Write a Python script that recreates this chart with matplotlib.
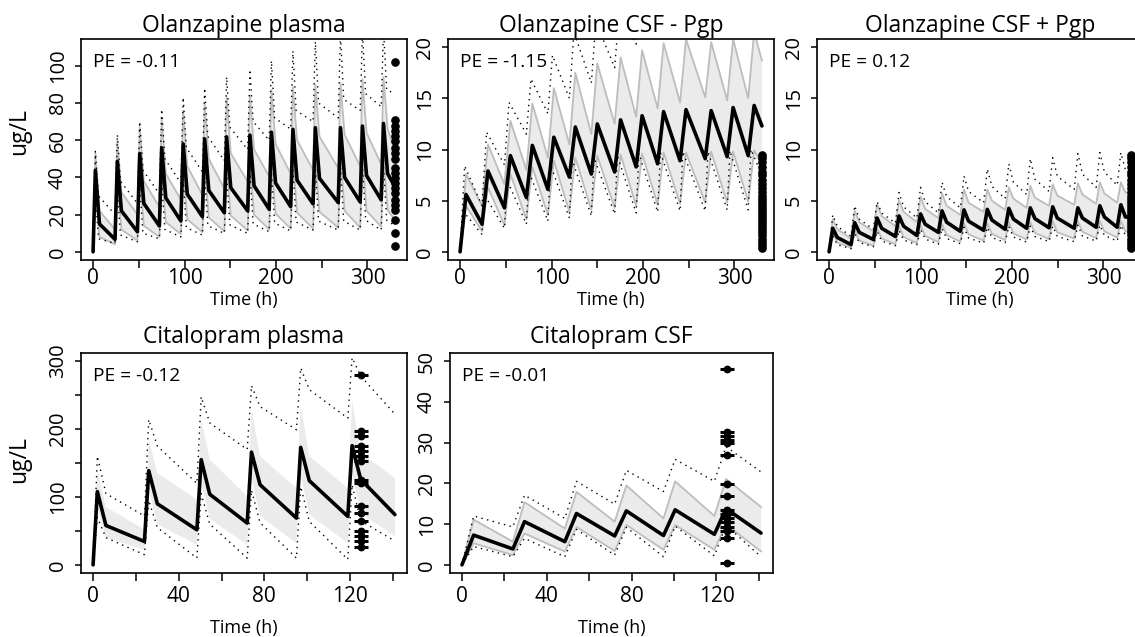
import numpy as np
import matplotlib
matplotlib.use('Agg')
import matplotlib.pyplot as plt

plt.rcParams['font.family'] = ['Open Sans', 'DejaVu Sans']

# ------------------------------------------------------------------ data
# Olanzapine: dosing times (h), end of simulation, observation time
olz_doses = [0, 24, 48.5, 72.5, 96, 119.5, 143.5, 169, 192.5, 216, 240.5, 268, 292, 315]
olz_end = 330
olz_obs_time = 330

# Olanzapine plasma (ug/L): value at each dose (trough), peak, shoulder
op_med_trough = [0, 6.7, 10.8, 13.9, 16.6, 18.9, 21.0, 22.0, 22.9, 24.3, 25.8, 26.5, 26.8, 27.9]
op_med_peak = [43.8, 48.6, 52.8, 55.9, 58.0, 60.7, 61.8, 62.7, 64.3, 65.8, 66.7, 66.7, 67.6, 69.0]
op_med_knee = [15, 22, 26, 29, 31, 33, 34.5, 35.5, 37, 38.5, 39.5, 40, 41, 42]
op_med_end = 35
op_hi_trough = [0, 12, 20, 24, 28, 30.6, 34, 37.8, 40.5, 42, 44, 45, 46, 47]
op_hi_peak = [52.8, 59.5, 67.0, 71.7, 75.7, 79.8, 83.2, 84.1, 87.0, 88.6, 89.7, 90.5, 92.8, 94.0]
op_hi_knee = [22, 32, 38, 42, 46, 50, 53, 55, 58, 60, 62, 63, 64, 66]
op_hi_end = 55
op_lo_trough = [0, 4, 6, 8, 9.5, 10.5, 11, 11.5, 12, 12.5, 12.5, 13, 13, 13.5]
op_lo_peak = [35, 38, 41, 43, 45, 46, 47, 48, 49, 50, 50, 51, 51, 52]
op_lo_knee = [8, 12, 14, 16, 17.5, 18.5, 19.5, 20, 20.5, 21, 21.5, 22, 22, 22.5]
op_lo_end = 17
op_dhi_trough = [0, 20, 26, 31, 37, 43, 49, 55, 60, 66, 70, 72, 76, 78]
op_dhi_peak = [54, 63, 70, 76.6, 83, 88, 94, 98, 102.7, 108, 113, 117, 118, 120]
op_dhi_knee = [30, 38, 44, 50, 56, 62, 67, 70, 72, 76, 80, 82, 85, 87]
op_dhi_end = 85
op_dlo_trough = [0, 4.5, 5.4, 7, 8, 9, 9.9, 9.9, 10.8, 11.2, 11.7, 11.7, 11.7, 11.7]
op_dlo_peak = [30, 32, 35, 37, 39, 40, 41, 42, 43, 44, 45, 45, 46, 46]
op_dlo_knee = [7, 9, 10, 12, 13, 14, 14.5, 15, 15.5, 16, 16.5, 16.5, 17, 17]
op_dlo_end = 14
op_obs = [102.3, 71, 67.7, 65, 62.3, 59.6, 56, 53.3, 49.7, 45.2, 42.5, 39.8, 37.1,
          34.4, 31.7, 28.1, 25.4, 22.7, 17.3, 10.1, 3.2]

# Olanzapine CSF - Pgp (ug/L)
oa_med_trough = [0, 2.7, 4.3, 5.3, 6.1, 7.3, 7.6, 7.8, 8.3, 8.6, 8.9, 9.1, 9.3, 9.4]
oa_med_peak = [5.6, 7.9, 9.4, 10.4, 11.2, 12.2, 12.5, 12.9, 13.3, 13.7, 13.9, 13.8, 14.1, 14.3]
oa_med_end = 12.3
oa_hi_trough = [0, 4.5, 6.6, 8.0, 9.2, 10.5, 11.5, 12.5, 13.2, 14.0, 14.6, 15.1, 14.8, 15.0]
oa_hi_peak = [7.6, 10.5, 12.8, 14.5, 16.0, 17.5, 18.4, 19.0, 19.7, 20.4, 20.8, 20.5, 20.8, 21.5]
oa_hi_end = 18.7
oa_lo_trough = [0, 2.0, 2.6, 3.2, 3.6, 3.9, 4.1, 4.3, 4.5, 4.6, 4.7, 4.8, 4.8, 4.9]
oa_lo_peak = [4.5, 6.3, 7.6, 8.3, 8.9, 9.2, 9.4, 9.5, 9.6, 9.7, 9.7, 9.8, 9.8, 9.9]
oa_lo_end = 8.5
oa_dhi_trough = [0, 4.5, 8.5, 11.5, 13.5, 15, 16.5, 18, 20.3, 21.5, 22, 22.5, 22.5, 22.5]
oa_dhi_peak = [8.4, 11.7, 14.6, 16.9, 19.2, 21.5, 22.5, 23.5, 25, 25.5, 26, 26, 26, 26]
oa_dhi_end = 24
oa_dlo_trough = [0, 1.7, 2.3, 2.7, 3.0, 3.3, 3.5, 3.7, 3.8, 3.9, 4.0, 4.0, 4.1, 4.1]
oa_dlo_peak = [4.0, 5.5, 7.0, 7.8, 8.5, 9.0, 9.2, 9.4, 9.6, 9.7, 9.8, 9.8, 9.9, 10]
oa_dlo_end = 7.5

# Olanzapine CSF + Pgp (ug/L)
ob_med_trough = [0, 0.7, 1.2, 1.5, 1.6, 1.9, 2.0, 2.1, 2.2, 2.3, 2.35, 2.3, 2.4, 2.4]
ob_med_peak = [2.3, 2.85, 3.3, 3.5, 3.7, 4.0, 4.1, 4.15, 4.25, 4.3, 4.4, 4.3, 4.5, 4.6]
ob_med_knee = [1.4, 1.9, 2.3, 2.5, 2.7, 2.9, 3.0, 3.1, 3.2, 3.25, 3.3, 3.3, 3.4, 3.4]
ob_med_end = 3.4
ob_hi_trough = [0, 1.3, 2.0, 2.5, 2.9, 3.3, 3.6, 3.9, 4.1, 4.3, 4.5, 4.6, 4.7, 4.8]
ob_hi_peak = [3.2, 4.0, 4.65, 5.05, 5.4, 5.7, 6.1, 6.1, 6.3, 6.45, 6.6, 6.7, 6.8, 6.8]
ob_hi_knee = [2.2, 2.9, 3.5, 3.9, 4.2, 4.5, 4.8, 5.0, 5.2, 5.3, 5.5, 5.6, 5.7, 5.8]
ob_hi_end = 5.6
ob_lo_trough = [0, 0.4, 0.6, 0.75, 0.85, 0.95, 1.0, 1.1, 1.15, 1.2, 1.25, 1.3, 1.35, 1.4]
ob_lo_peak = [1.8, 2.1, 2.3, 2.5, 2.6, 2.7, 2.8, 2.8, 2.9, 2.9, 3.0, 3.0, 3.0, 3.0]
ob_lo_knee = [0.9, 1.1, 1.3, 1.45, 1.55, 1.65, 1.7, 1.75, 1.8, 1.85, 1.9, 1.95, 2.0, 2.0]
ob_lo_end = 1.9
ob_dhi_trough = [0, 1.5, 2.2, 2.8, 3.3, 3.8, 4.3, 4.8, 5.2, 5.6, 5.9, 6.1, 6.3, 6.5]
ob_dhi_peak = [3.6, 4.5, 4.9, 5.8, 6.3, 6.8, 7.4, 8.1, 8.6, 9.1, 9.2, 9.6, 9.7, 9.7]
ob_dhi_knee = [2.5, 3.2, 3.8, 4.4, 4.9, 5.4, 5.9, 6.4, 6.8, 7.1, 7.4, 7.6, 7.8, 8.0]
ob_dhi_end = 7.8
ob_dlo_trough = [0, 0.3, 0.5, 0.6, 0.7, 0.75, 0.8, 0.85, 0.9, 0.95, 1.0, 1.0, 1.05, 1.05]
ob_dlo_peak = [1.6, 1.8, 2.0, 2.1, 2.2, 2.3, 2.4, 2.4, 2.5, 2.5, 2.5, 2.6, 2.6, 2.6]
ob_dlo_knee = [0.7, 0.9, 1.05, 1.15, 1.25, 1.3, 1.35, 1.4, 1.45, 1.5, 1.5, 1.55, 1.6, 1.6]
ob_dlo_end = 1.5

# Olanzapine CSF observations (same for both CSF panels)
oc_obs = [9.5, 9.2, 8.8, 8.3, 7.8, 7.5, 7.0, 6.6, 6.2, 5.8, 5.5, 5.2, 4.9, 4.6, 4.3,
          4.0, 3.7, 3.4, 3.1, 2.8, 2.5, 2.2, 1.9, 1.6, 1.3, 1.0, 0.7, 0.4]

# Citalopram: dosing times (h), end of simulation, observation time
cit_doses = [0, 24, 48.5, 72, 95, 119]
cit_end = 141
cit_obs_time = 125

# Citalopram plasma (ug/L)
cp_med_trough = [0, 34.4, 51.6, 61.5, 68.9, 71.3]
cp_med_peak = [108, 138.7, 155, 166, 173, 175.6]
cp_med_knee = [58, 90, 104, 118, 124, 126]
cp_med_end = 74
cp_hi_trough = [0, 52, 96, 101, 113, 113]
cp_hi_peak = [140, 184.5, 214, 228.7, 235, 242.5]
cp_hi_knee = [85, 135, 155, 160, 160, 165]
cp_hi_end = 128
cp_lo_trough = [0, 22, 29.5, 29.5, 32, 32]
cp_lo_peak = [85, 110, 120, 128, 132, 135]
cp_lo_knee = [40, 60, 68, 72, 74, 76]
cp_lo_end = 42
cp_dhi_trough = [0, 72, 120, 170, 199, 216]
cp_dhi_peak = [160, 214, 247.5, 264, 290, 305]
cp_dhi_knee = [105, 175, 209, 233, 258, 278]
cp_dhi_end = 222
cp_dlo_trough = [0, 15, 10, 10, 10, 8]
cp_dlo_peak = [70, 95, 105, 110, 115, 118]
cp_dlo_knee = [40, 55, 60, 62, 64, 65]
cp_dlo_end = 35
cp_obs = [279, 197, 189.5, 174.8, 167.4, 160, 152.6, 125.6, 120.7, 86, 76.4, 64,
          49.3, 41.8, 34.4, 27]

# Citalopram CSF (ug/L)
cc_med_trough = [0, 3.9, 5.7, 7.1, 7.2, 7.5]
cc_med_peak = [7.3, 10.6, 12.6, 13.25, 13.5, 13.8]
cc_med_end = 7.8
cc_hi_trough = [0, 5.7, 8.9, 10.6, 11.4, 12.0]
cc_hi_peak = [11.1, 15.4, 17.9, 19.5, 20.5, 21.1]
cc_hi_end = 14.2
cc_lo_trough = [0, 2.4, 3.25, 3.4, 3.7, 3.7]
cc_lo_peak = [5.3, 7.7, 9.3, 9.8, 9.8, 9.9]
cc_lo_end = 3.3
cc_dhi_trough = [0, 9.3, 11.4, 14.9, 18, 20.5]
cc_dhi_peak = [12, 17.1, 20.5, 23.2, 25.9, 29]
cc_dhi_end = 22.8
cc_dlo_trough = [0, 2.0, 2.0, 2.4, 2.0, 2.2]
cc_dlo_peak = [4.5, 6.5, 8.7, 9.2, 9.5, 9.7]
cc_dlo_end = 2.0
cc_obs = [48, 32.7, 31.7, 30.7, 29.8, 27, 19.9, 16.9, 13.4, 12.4, 11.4, 10.4, 9.3,
          8.3, 6.5, 0.4]

titles = ["Olanzapine plasma", "Olanzapine CSF - Pgp", "Olanzapine CSF + Pgp",
          "Citalopram plasma", "Citalopram CSF"]
pe_texts = ["PE = -0.11", "PE = -1.15", "PE = 0.12", "PE = -0.12", "PE = -0.01"]


# ------------------------------------------------------------------ helpers
def cycle_path(doses, t_end, troughs, peaks, peak_off, end, knees=None, knee_off=None):
    t, y = [], []
    for i, d in enumerate(doses):
        t.append(d)
        y.append(troughs[i])
        t.append(d + peak_off)
        y.append(peaks[i])
        if knees is not None:
            t.append(d + knee_off)
            y.append(knees[i])
    t.append(t_end)
    y.append(end)
    return np.array(t), np.array(y)


W, H = 1135, 637
fig = plt.figure(figsize=(W / 100, H / 100), dpi=100)


def make_ax(l, t, r, b):
    return fig.add_axes([l / W, 1 - b / H, (r - l) / W, (b - t) / H])


FILL = '#ebebeb'
EDGE = '#bdbdbd'
DOT = dict(color='black', lw=1.0, linestyle=(0, (1, 3.2)))
MED = dict(color='black', lw=2.6, solid_joinstyle='round', solid_capstyle='round')


def draw(ax, med, hi, lo, dhi, dlo, obs_t, obs_y, edges=True, bars=False):
    ax.fill(np.r_[hi[0], lo[0][::-1]], np.r_[hi[1], lo[1][::-1]],
            color=FILL, lw=0, zorder=1)
    if edges:
        ax.plot(*hi, color=EDGE, lw=1.3, zorder=2)
        ax.plot(*lo, color=EDGE, lw=1.3, zorder=2)
    ax.plot(*dhi, zorder=3, **DOT)
    ax.plot(*dlo, zorder=3, **DOT)
    ax.plot(*med, zorder=4, **MED)
    ox = np.full(len(obs_y), obs_t, dtype=float)
    if bars:
        ax.plot(ox, obs_y, linestyle='none', marker='_', ms=10, mew=2.2,
                color='black', zorder=5, clip_on=False)
        ax.plot(ox, obs_y, linestyle='none', marker='o', ms=4.6,
                color='black', zorder=6, clip_on=False)
    else:
        ax.plot(ox, obs_y, linestyle='none', marker='o', ms=5.2,
                color='black', zorder=5, clip_on=False)


def style(ax, xlim, ylim, xticks, xlab, yticks, ylab, title, pe, row):
    ax.set_xlim(*xlim)
    ax.set_ylim(*ylim)
    ax.set_xticks(xticks)
    ax.set_xticklabels([str(v) if v in xlab else '' for v in xticks])
    ax.set_yticks(yticks)
    ax.set_yticklabels([str(v) if v in ylab else '' for v in yticks])
    for s in ax.spines.values():
        s.set_linewidth(1.2)
    xpad = 0.0 if row == 0 else 4.0
    ax.tick_params(axis='x', direction='out', length=5.5, width=1.1,
                   labelsize=15, pad=xpad)
    ax.tick_params(axis='y', direction='out', length=4.5, width=1.1,
                   labelsize=14.5, pad=5.0, labelrotation=90)
    for lab in ax.get_yticklabels():
        lab.set_va('center')
    h = ax.get_position().height * H
    w = ax.get_position().width * W
    ty = 1 + (7.3 if row == 0 else 9.7) / h
    ax.text(0.5, ty, title, transform=ax.transAxes, ha='center', va='baseline',
            fontsize=16.5)
    ax.text(12 / w, 1 - 28 / h, pe, transform=ax.transAxes, ha='left',
            va='baseline', fontsize=13.8)
    tly = -(39.5 if row == 0 else 54.5) / h
    ax.text(0.5, tly, 'Time (h)', transform=ax.transAxes, ha='center',
            va='center', fontsize=13)


olz_xlim = (-13.2, 343.2)
olz_xt = list(range(0, 301, 50))
olz_xl = [0, 100, 200, 300]
cit_xlim = (-5.64, 146.64)
cit_xt = list(range(0, 141, 20))
cit_xl = [0, 40, 80, 120]

# ---------------- Olanzapine plasma
ax = make_ax(81, 39, 407, 260)
draw(ax,
     cycle_path(olz_doses, olz_end, op_med_trough, op_med_peak, 2.5, op_med_end, op_med_knee, 7),
     cycle_path(olz_doses, olz_end, op_hi_trough, op_hi_peak, 2.5, op_hi_end, op_hi_knee, 7),
     cycle_path(olz_doses, olz_end, op_lo_trough, op_lo_peak, 2.5, op_lo_end, op_lo_knee, 7),
     cycle_path(olz_doses, olz_end, op_dhi_trough, op_dhi_peak, 2.5, op_dhi_end, op_dhi_knee, 6),
     cycle_path(olz_doses, olz_end, op_dlo_trough, op_dlo_peak, 2.5, op_dlo_end, op_dlo_knee, 6),
     olz_obs_time, op_obs)
style(ax, olz_xlim, (-4.4, 114.4), olz_xt, olz_xl, list(range(0, 101, 20)),
      list(range(0, 101, 20)), titles[0], pe_texts[0], 0)

# ---------------- Olanzapine CSF - Pgp
ax = make_ax(448, 39, 774, 260)
draw(ax,
     cycle_path(olz_doses, olz_end, oa_med_trough, oa_med_peak, 6.5, oa_med_end),
     cycle_path(olz_doses, olz_end, oa_hi_trough, oa_hi_peak, 6.5, oa_hi_end),
     cycle_path(olz_doses, olz_end, oa_lo_trough, oa_lo_peak, 6.5, oa_lo_end),
     cycle_path(olz_doses, olz_end, oa_dhi_trough, oa_dhi_peak, 5, oa_dhi_end),
     cycle_path(olz_doses, olz_end, oa_dlo_trough, oa_dlo_peak, 3, oa_dlo_end),
     olz_obs_time, oc_obs)
style(ax, olz_xlim, (-0.8, 20.8), olz_xt, olz_xl, [0, 5, 10, 15, 20],
      [0, 5, 10, 15, 20], titles[1], pe_texts[1], 0)

# ---------------- Olanzapine CSF + Pgp
ax = make_ax(817, 39, 1143, 260)
draw(ax,
     cycle_path(olz_doses, olz_end, ob_med_trough, ob_med_peak, 4, ob_med_end, ob_med_knee, 9),
     cycle_path(olz_doses, olz_end, ob_hi_trough, ob_hi_peak, 4, ob_hi_end, ob_hi_knee, 9),
     cycle_path(olz_doses, olz_end, ob_lo_trough, ob_lo_peak, 4, ob_lo_end, ob_lo_knee, 9),
     cycle_path(olz_doses, olz_end, ob_dhi_trough, ob_dhi_peak, 4, ob_dhi_end, ob_dhi_knee, 9),
     cycle_path(olz_doses, olz_end, ob_dlo_trough, ob_dlo_peak, 4, ob_dlo_end, ob_dlo_knee, 9),
     olz_obs_time, oc_obs)
style(ax, olz_xlim, (-0.8, 20.8), olz_xt, olz_xl, [0, 5, 10, 15, 20],
      [0, 5, 10, 15, 20], titles[2], pe_texts[2], 0)

# ---------------- Citalopram plasma
ax = make_ax(81, 353, 407, 573)
draw(ax,
     cycle_path(cit_doses, cit_end, cp_med_trough, cp_med_peak, 2, cp_med_end, cp_med_knee, 6),
     cycle_path(cit_doses, cit_end, cp_hi_trough, cp_hi_peak, 2, cp_hi_end, cp_hi_knee, 6),
     cycle_path(cit_doses, cit_end, cp_lo_trough, cp_lo_peak, 2, cp_lo_end, cp_lo_knee, 6),
     cycle_path(cit_doses, cit_end, cp_dhi_trough, cp_dhi_peak, 2, cp_dhi_end, cp_dhi_knee, 6),
     cycle_path(cit_doses, cit_end, cp_dlo_trough, cp_dlo_peak, 2, cp_dlo_end, cp_dlo_knee, 6),
     cit_obs_time, cp_obs, edges=False, bars=True)
style(ax, cit_xlim, (-12, 312), cit_xt, cit_xl, list(range(0, 301, 50)),
      [0, 100, 200, 300], titles[3], pe_texts[3], 1)

# ---------------- Citalopram CSF
ax = make_ax(450, 353, 773, 573)
draw(ax,
     cycle_path(cit_doses, cit_end, cc_med_trough, cc_med_peak, 5.5, cc_med_end),
     cycle_path(cit_doses, cit_end, cc_hi_trough, cc_hi_peak, 5.5, cc_hi_end),
     cycle_path(cit_doses, cit_end, cc_lo_trough, cc_lo_peak, 5.5, cc_lo_end),
     cycle_path(cit_doses, cit_end, cc_dhi_trough, cc_dhi_peak, 5.5, cc_dhi_end),
     cycle_path(cit_doses, cit_end, cc_dlo_trough, cc_dlo_peak, 5.5, cc_dlo_end),
     cit_obs_time, cc_obs, bars=True)
style(ax, cit_xlim, (-2, 52), cit_xt, cit_xl, list(range(0, 51, 10)),
      list(range(0, 51, 10)), titles[4], pe_texts[4], 1)

fig.text(19 / W, 1 - 132 / H, 'ug/L', rotation=90, ha='center', va='center', fontsize=16.5)
fig.text(19 / W, 1 - 460 / H, 'ug/L', rotation=90, ha='center', va='center', fontsize=16.5)

fig.savefig('out.png', dpi=100)
